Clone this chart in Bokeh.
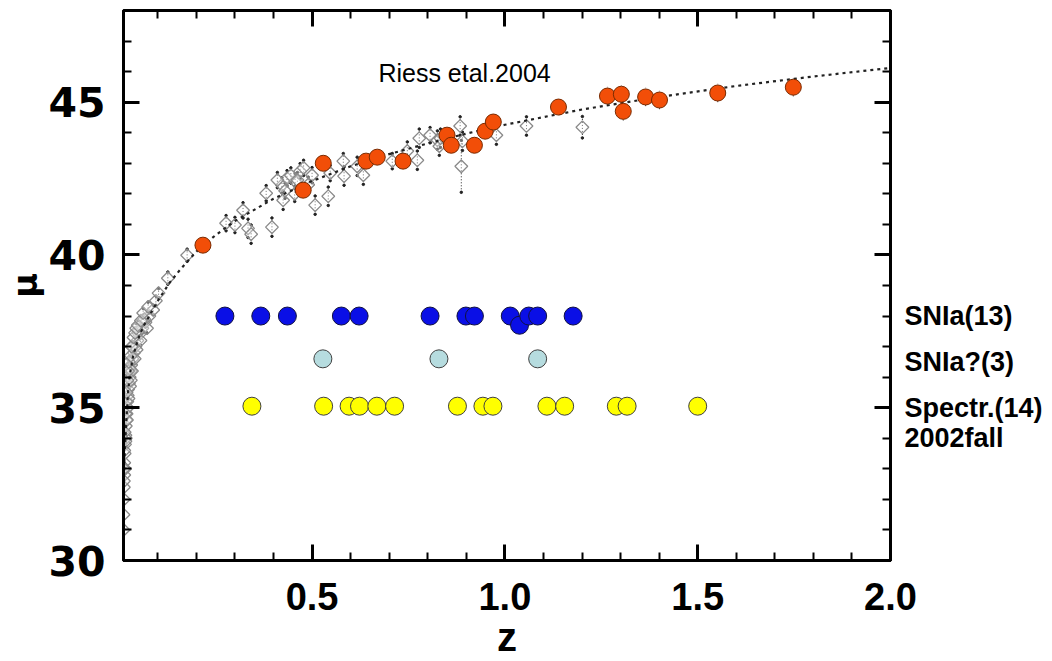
import numpy as np
from bokeh.plotting import figure
from bokeh.models import FixedTicker, LinearAxis, Label, Range1d, PrintfTickFormatter
from bokeh.embed import file_html
from bokeh.resources import INLINE

# ---------------- data ----------------
# model curve
curve_z = [0.011, 0.014, 0.018, 0.023, 0.027, 0.036, 0.049, 0.062, 0.080, 0.10, 0.13, 0.16, 0.20,
           0.25, 0.30, 0.40, 0.50, 0.60, 0.70, 0.80, 0.90, 1.00, 1.20, 1.40, 1.60, 1.80, 2.00]
curve_mu = [32.5, 33.45, 34.5, 35.55, 36.05, 36.7, 37.25, 37.65, 38.05, 38.5, 39.08, 39.55, 40.11,
            40.65, 41.11, 41.84, 42.42, 42.90, 43.30, 43.65, 43.97, 44.26, 44.76, 45.17, 45.53, 45.84, 46.12]

# Riess et al. 2004 gold sample (open diamonds)
diam_z = [0.011, 0.011, 0.012, 0.012, 0.013, 0.013, 0.014, 0.015, 0.016, 0.017, 0.018, 0.019,
          0.020, 0.021, 0.022, 0.023, 0.025, 0.027, 0.029, 0.031, 0.034, 0.038, 0.042, 0.047,
          0.052, 0.060, 0.068, 0.078, 0.088, 0.095, 0.102,
          0.020, 0.024, 0.028, 0.026, 0.033, 0.040, 0.035, 0.045, 0.050, 0.055, 0.065, 0.072,
          0.015, 0.017, 0.022, 0.030,
          0.013, 0.014, 0.016, 0.018, 0.019, 0.021, 0.023, 0.025, 0.030, 0.032,
          0.037, 0.041, 0.044, 0.048, 0.056, 0.062, 0.075, 0.012, 0.012, 0.016,
          0.126, 0.176, 0.277, 0.300, 0.321, 0.334, 0.342, 0.396, 0.381, 0.422,
          0.425, 0.435, 0.456, 0.469, 0.500, 0.508, 0.542, 0.547, 0.581, 0.583, 0.617, 0.633,
          0.708, 0.747, 0.773, 0.778, 0.806, 0.825, 0.830, 0.833, 0.884, 0.890, 0.887, 0.978,
          1.056, 1.201, 0.445, 0.462, 0.478, 0.490, 0.455, 0.430, 0.410]
diam_mu = [31.0, 31.5, 32.0, 32.4, 32.8, 33.2, 33.5, 33.8, 34.1, 34.4, 34.6, 34.8,
           35.0, 35.2, 35.4, 35.6, 35.8, 36.0, 36.2, 36.4, 36.6, 36.8, 37.0, 37.2,
           37.4, 37.6, 37.8, 38.0, 38.2, 38.5, 38.75,
           34.6, 35.3, 35.7, 36.3, 36.2, 36.6, 37.0, 36.9, 37.5, 37.2, 37.9, 37.6,
           33.0, 34.0, 35.0, 35.9,
           33.6, 34.2, 34.8, 35.2, 35.5, 35.9, 36.2, 36.5, 36.7, 37.0,
           37.3, 37.45, 37.6, 37.7, 37.85, 38.1, 38.3, 33.0, 32.6, 33.9,
           39.24, 39.99, 41.04, 40.98, 41.46, 40.87, 40.68, 40.91, 42.02, 42.28,
           41.79, 42.51, 42.41, 42.74, 42.61, 41.63, 41.92, 42.68, 43.07, 42.58, 42.90, 42.61,
           43.07, 43.40, 43.10, 43.82, 43.92, 43.76, 43.56, 43.82, 44.22, 43.72, 42.90, 43.92,
           44.22, 44.18, 42.60, 42.45, 42.85, 42.30, 42.00, 42.10, 42.45]
diam_err = [0.15] * 67 + [0.2, 0.2, 0.25, 0.25, 0.25, 0.3, 0.3, 0.3, 0.25, 0.25,
                          0.3, 0.25, 0.25, 0.25, 0.25, 0.3, 0.3, 0.25, 0.25, 0.3, 0.3, 0.3,
                          0.25, 0.3, 0.3, 0.3, 0.25, 0.3, 0.3, 0.3, 0.3, 0.3, 0.85, 0.3,
                          0.3, 0.35, 0.25, 0.25, 0.25, 0.25, 0.25, 0.25, 0.25]

# HST-discovered SNe (filled orange circles)
hst_z = [0.217, 0.477, 0.529, 0.640, 0.669, 0.736, 0.850, 0.861, 0.921, 0.949, 0.970,
         1.139, 1.266, 1.302, 1.307, 1.365, 1.401, 1.552, 1.748]
hst_mu = [40.32, 42.12, 43.00, 43.07, 43.20, 43.07, 43.92, 43.59, 43.59, 44.05, 44.35,
          44.84, 45.20, 45.26, 44.70, 45.17, 45.07, 45.30, 45.49]
hst_err = [0.15, 0.2, 0.2, 0.2, 0.2, 0.2, 0.25, 0.25, 0.25, 0.25, 0.25,
           0.25, 0.3, 0.3, 0.3, 0.3, 0.3, 0.3, 0.3]

# 2002 fall candidates (redshifts only, plotted in rows)
snia_z = [0.274, 0.367, 0.436, 0.576, 0.622, 0.806, 0.899, 0.921, 1.014, 1.038, 1.062, 1.085, 1.177]
snia_mu = [38.0, 38.0, 38.0, 38.0, 38.0, 38.0, 38.0, 38.0, 38.0, 37.7, 38.0, 38.0, 38.0]
sniaq_z = [0.528, 0.829, 1.085]
sniaq_mu = [36.6, 36.6, 36.6]
spec_z = [0.344, 0.530, 0.596, 0.623, 0.668, 0.714, 0.877, 0.943, 0.969, 1.109, 1.155,
          1.289, 1.317, 1.500]
spec_mu = [35.05] * 14

row_labels = ["SNIa(13)", "SNIa?(3)", "Spectr.(14)", "2002fall"]
row_label_mu = [38.0, 36.5, 34.98, 34.0]

x_major = [0.5, 1.0, 1.5, 2.0]
x_minor = [0.1, 0.2, 0.3, 0.4, 0.6, 0.7, 0.8, 0.9, 1.1, 1.2, 1.3, 1.4, 1.6, 1.7, 1.8, 1.9]
y_major = [30, 35, 40, 45]
y_minor = [31, 32, 33, 34, 36, 37, 38, 39, 41, 42, 43, 44, 46, 47]

# ---------------- figure ----------------
p = figure(frame_width=767, frame_height=550,
           x_range=Range1d(0.011, 2.0), y_range=Range1d(30, 48),
           output_backend="svg", toolbar_location=None,
           min_border_left=123, min_border_right=158,
           min_border_top=10, min_border_bottom=92)
p.xgrid.visible = False
p.ygrid.visible = False
p.outline_line_color = "black"
p.outline_line_width = 3
p.background_fill_color = "white"
p.border_fill_color = "white"


def style_axis(ax):
    ax.axis_line_width = 3
    ax.major_tick_in = 16
    ax.major_tick_out = 0
    ax.minor_tick_in = 8
    ax.minor_tick_out = 0
    ax.major_tick_line_width = 3
    ax.minor_tick_line_width = 2


xt = FixedTicker(ticks=x_major, minor_ticks=x_minor)
yt = FixedTicker(ticks=y_major, minor_ticks=y_minor)

xa = p.xaxis[0]
xa.ticker = xt
xa.formatter = PrintfTickFormatter(format="%.1f")
style_axis(xa)
xa.major_label_text_font = "Liberation Sans"
xa.major_label_text_font_style = "bold"
xa.major_label_text_font_size = "38px"
xa.major_label_text_color = "black"
xa.major_label_standoff = 22
xa.axis_label = "z"
xa.axis_label_text_font = "Liberation Sans"
xa.axis_label_text_font_style = "bold"
xa.axis_label_text_font_size = "40px"
xa.axis_label_text_color = "black"
xa.axis_label_standoff = 2

ya = p.yaxis[0]
ya.ticker = yt
style_axis(ya)
ya.major_label_text_font = "DejaVu Sans"
ya.major_label_text_font_style = "bold"
ya.major_label_text_font_size = "41px"
ya.major_label_text_color = "black"
ya.major_label_standoff = 18
ya.axis_label = "μ"
ya.axis_label_text_font = "DejaVu Sans"
ya.axis_label_text_font_style = "bold"
ya.axis_label_text_font_size = "34px"
ya.axis_label_text_color = "black"
ya.axis_label_standoff = 0

top = LinearAxis(ticker=xt)
style_axis(top)
top.major_label_text_font_size = "1px"
top.major_label_text_alpha = 0
top.major_label_standoff = 0
p.add_layout(top, "above")

right = LinearAxis(ticker=yt)
style_axis(right)
right.major_label_text_font_size = "1px"
right.major_label_text_alpha = 0
right.major_label_standoff = 0
p.add_layout(right, "right")

rows = LinearAxis(ticker=FixedTicker(ticks=row_label_mu, minor_ticks=[]))
rows.axis_line_color = None
rows.major_tick_line_color = None
rows.minor_tick_line_color = None
rows.major_tick_in = 0
rows.major_tick_out = 0
rows.minor_tick_in = 0
rows.minor_tick_out = 0
rows.major_label_overrides = {m: t for m, t in zip(row_label_mu, row_labels)}
rows.major_label_text_font = "Liberation Sans"
rows.major_label_text_font_style = "bold"
rows.major_label_text_font_size = "27px"
rows.major_label_text_color = "black"
rows.major_label_standoff = 14
p.add_layout(rows, "right")

# ---------------- glyphs ----------------
dz = np.array(diam_z)
dmu = np.array(diam_mu)
derr = np.array(diam_err)
p.segment(x0=dz, y0=dmu - derr, x1=dz, y1=dmu + derr,
          line_color="#222222", line_width=1, line_dash="1 2")
p.scatter(np.concatenate([dz, dz]), np.concatenate([dmu - derr, dmu + derr]),
          marker="circle", size=2.5, color="#222222")
p.scatter(dz, dmu, marker="square", angle=np.pi / 4, size=9, fill_color="white",
          fill_alpha=0.35, line_color="#8a8a8a", line_width=1.3)

p.line(curve_z, curve_mu, line_color="#222222", line_width=2.2, line_dash="3 4")

hz = np.array(hst_z)
hmu = np.array(hst_mu)
herr = np.array(hst_err)
p.segment(x0=hz, y0=hmu - herr, x1=hz, y1=hmu + herr,
          line_color="#222222", line_width=1, line_dash="1 2")
p.scatter(hz, hmu, marker="circle", size=16, fill_color="#F24E08",
          line_color="#7a2a00", line_width=1)

p.scatter(snia_z, snia_mu, marker="circle", size=18, fill_color="#0A0FE6",
          line_color="#101040", line_width=1)
p.scatter(sniaq_z, sniaq_mu, marker="circle", size=18, fill_color="#B6DCDF",
          line_color="#404040", line_width=1)
p.scatter(spec_z, spec_mu, marker="circle", size=18, fill_color="#FFFF00",
          line_color="#404040", line_width=1)

# ---------------- texts ----------------
p.add_layout(Label(x=0.672, y=45.95, text="Riess etal.2004", text_font="Liberation Sans",
                   text_font_size="25px", text_baseline="middle", text_align="left",
                   text_color="black"))

open("out.html", "w").write(file_html(p, INLINE))
